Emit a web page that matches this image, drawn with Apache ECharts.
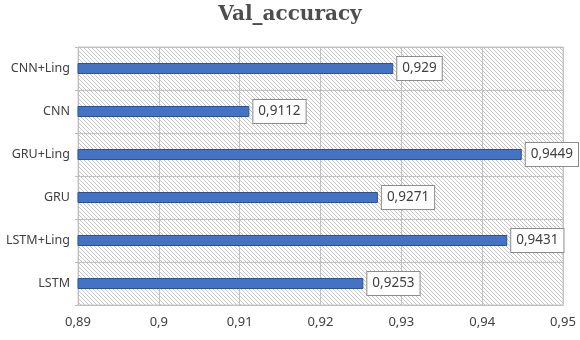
<!DOCTYPE html>
<html><head><meta charset="utf-8">
<script src="https://cdn.jsdelivr.net/npm/echarts@6/dist/echarts.min.js"></script>
<style>html,body{margin:0;padding:0;background:#fff}#c{width:580px;height:340px}</style>
</head><body><div id="c"></div>
<script>
var categories = ['LSTM', 'LSTM+Ling', 'GRU', 'GRU+Ling', 'CNN', 'CNN+Ling'];
var values = [0.9253, 0.9431, 0.9271, 0.9449, 0.9112, 0.929];
var xTicks = [0.89, 0.9, 0.91, 0.92, 0.93, 0.94, 0.95];

var tile = document.createElement('canvas');
tile.width = 8; tile.height = 8;
var g = tile.getContext('2d');
g.fillStyle = '#ffffff'; g.fillRect(0, 0, 8, 8);
g.strokeStyle = '#c4c4c4'; g.lineWidth = 1;
for (var k = -16; k <= 16; k += 4) {
  g.beginPath(); g.moveTo(k, 0); g.lineTo(k + 8, 8); g.stroke();
}

function fmt(v) { return String(v).replace('.', ','); }

var chart = echarts.init(document.getElementById('c'));
chart.setOption({
  animation: false,
  title: {
    text: 'Val_accuracy', left: 'center', top: 0,
    textStyle: { fontFamily: 'DejaVu Serif', fontWeight: 'bold', fontSize: 20, color: '#4d4d4d' }
  },
  grid: {
    left: 78, right: 17, top: 47, bottom: 35, show: true,
    backgroundColor: { image: tile, repeat: 'repeat' }, borderColor: '#c8c8c8', borderWidth: 1
  },
  xAxis: {
    type: 'value', min: xTicks[0], max: xTicks[xTicks.length - 1], interval: 0.01,
    axisLine: { show: true, lineStyle: { color: '#bfbfbf' } },
    axisTick: { show: false },
    axisLabel: { formatter: function (v) { return fmt(+v.toFixed(2)); }, color: '#404040', fontFamily: 'Noto Sans', fontSize: 13, margin: 11 },
    splitLine: { show: true, lineStyle: { color: '#c0c0c0' } }
  },
  yAxis: {
    type: 'category', data: categories,
    axisLine: { show: true, lineStyle: { color: '#bfbfbf' } },
    axisTick: { show: true, length: 3, lineStyle: { color: '#bfbfbf' } },
    axisLabel: { color: '#404040', fontFamily: 'Noto Sans', fontSize: 12.5, margin: 8 },
    splitLine: { show: true, lineStyle: { color: '#c0c0c0' } }
  },
  series: [{
    type: 'bar', data: values, barWidth: 11,
    itemStyle: { color: '#4472c4', borderColor: '#2f528f', borderWidth: 1 },
    label: {
      show: true, position: 'right', distance: 4,
      formatter: function (p) { return fmt(p.value); },
      color: '#404040', fontFamily: 'Noto Sans', fontSize: 13.5,
      backgroundColor: '#ffffff', borderColor: '#8c8c8c', borderWidth: 1, padding: [5, 5, 4, 5]
    }
  }]
});
</script></body></html>
